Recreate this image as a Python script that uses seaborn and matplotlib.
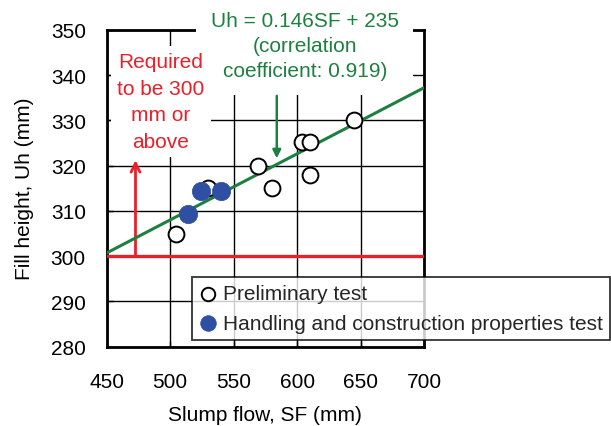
import matplotlib
matplotlib.use("Agg")
import matplotlib.pyplot as plt
import seaborn as sns
import numpy as np
import pandas as pd

# ---- data ----
prelim_sf = [505, 530, 569, 580, 604, 610, 610, 645]
prelim_uh = [305, 315, 320, 315, 325.3, 325.3, 318, 330]
hc_sf = [514, 524, 540]
hc_uh = [309.2, 314.4, 314.4]
fit_slope = 0.146
fit_intercept = 235
required_uh = 300
x_ticks = [450, 500, 550, 600, 650, 700]
y_ticks = [280, 290, 300, 310, 320, 330, 340, 350]
eq_text = "Uh = 0.146SF + 235\n(correlation\ncoefficient: 0.919)"
req_text = "Required\nto be 300\nmm or\nabove"
label_prelim = "Preliminary test"
label_hc = "Handling and construction properties test"

sns.set_theme(style="white")
plt.rcParams['font.family'] = ['Liberation Sans', 'DejaVu Sans']

GREEN = "#1E8040"
RED = "#E8202A"
BLUE = "#2F4FA2"
FS = 15

fig = plt.figure(figsize=(6.11, 4.27), dpi=100)
ax = fig.add_axes([0.1746, 0.1857, 0.694 - 0.1746, 0.928 - 0.1857])

fit_x = np.array([x_ticks[0], x_ticks[-1]])
fit_df = pd.DataFrame({"SF": fit_x, "Uh": fit_slope * fit_x + fit_intercept})
sns.lineplot(data=fit_df, x="SF", y="Uh", ax=ax, color=GREEN, linewidth=2.2, zorder=7)

ax.axhline(required_uh, color=RED, linewidth=2.4, zorder=3)

prelim_df = pd.DataFrame({"SF": prelim_sf, "Uh": prelim_uh})
hc_df = pd.DataFrame({"SF": hc_sf, "Uh": hc_uh})
sns.scatterplot(data=prelim_df, x="SF", y="Uh", ax=ax, marker="o", s=130,
                facecolor="white", edgecolor="black", linewidth=1.4,
                label=label_prelim, zorder=8)
sns.scatterplot(data=hc_df, x="SF", y="Uh", ax=ax, marker="o", s=175,
                color=BLUE, edgecolor=BLUE, linewidth=0.5,
                label=label_hc, zorder=9)

ax.set_xlim(x_ticks[0], x_ticks[-1])
ax.set_ylim(y_ticks[0], y_ticks[-1])
ax.set_xticks(x_ticks)
ax.set_yticks(y_ticks)
ax.grid(True, color="black", linewidth=1.0)
ax.set_axisbelow(True)
for sp in ax.spines.values():
    sp.set_color("black")
    sp.set_linewidth(2.0)
ax.tick_params(axis="both", direction="in", length=4, width=1.0, color="black",
               labelsize=FS, labelcolor="black")
ax.tick_params(axis="x", pad=18, bottom=True)
ax.tick_params(axis="y", pad=15, left=True)

ax.set_xlabel("Slump flow, SF (mm)", fontsize=FS, color="black", labelpad=10)
ax.set_ylabel("Fill height, Uh (mm)", fontsize=FS, color="black", labelpad=12)

# equation text with white box (hides gridlines behind it)
ax.text(606, 346.5, eq_text, color=GREEN, fontsize=FS, ha="center", va="center",
        linespacing=1.4, zorder=6, clip_on=False,
        bbox=dict(boxstyle="square,pad=0.7", facecolor="white", edgecolor="none"))
ax.annotate("", xy=(584, 321.6), xytext=(584, 335.4),
            arrowprops=dict(arrowstyle="-|>", color=GREEN, lw=1.8,
                            mutation_scale=12, shrinkA=0, shrinkB=0), zorder=6)

ax.text(492.8, 334.2, req_text, color=RED, fontsize=FS, ha="center", va="center",
        linespacing=1.5, zorder=6,
        bbox=dict(boxstyle="square,pad=0.3", facecolor="white", edgecolor="none"))
ax.annotate("", xy=(472.7, 321.2), xytext=(472.7, 300.3),
            arrowprops=dict(arrowstyle="->", color=RED, lw=2.0,
                            mutation_scale=16, shrinkA=0, shrinkB=0), zorder=6)

leg = ax.legend(loc="lower left", bbox_to_anchor=(0.315, 0.2014),
                bbox_transform=fig.transFigure, fontsize=FS, frameon=True,
                fancybox=False, shadow=False, borderaxespad=0, borderpad=0.35,
                handletextpad=0.3, handlelength=0.8, labelspacing=0.5,
                markerscale=0.85)
leg.get_frame().set_edgecolor("black")
leg.get_frame().set_linewidth(1.3)
leg.set_zorder(10)

fig.savefig("out.png", dpi=100)
